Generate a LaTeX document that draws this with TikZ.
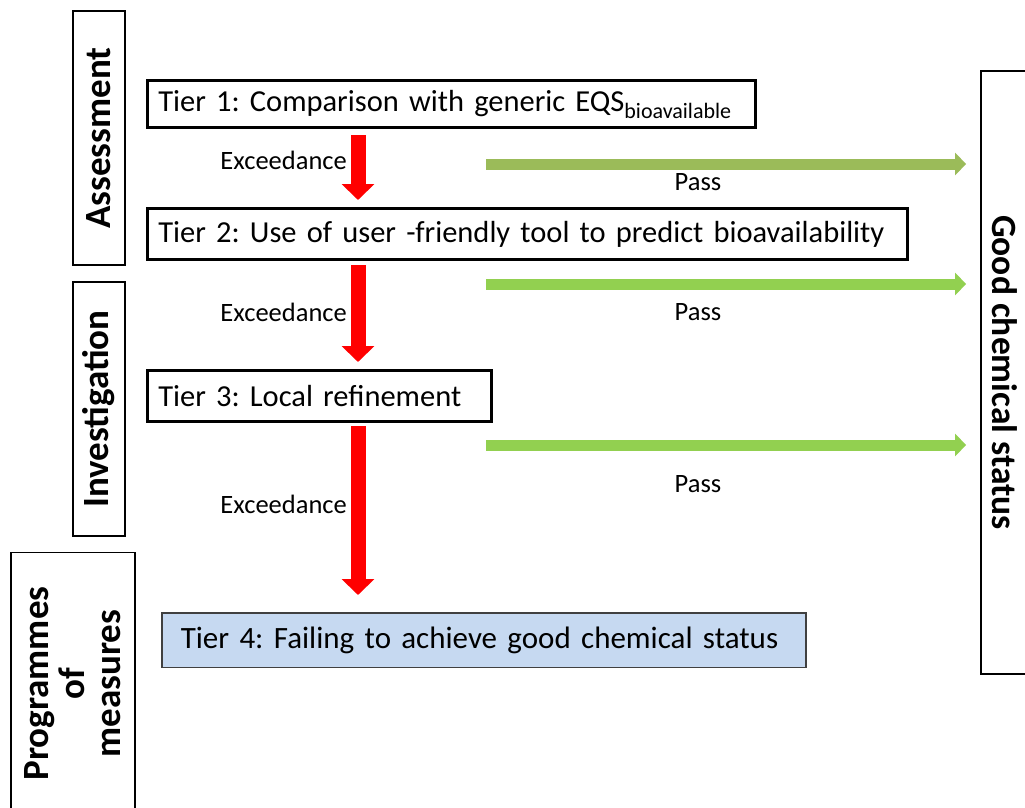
\documentclass[tikz,border=0pt]{standalone}
\usepackage{fontspec}
\setmainfont{Carlito}
\usetikzlibrary{arrows.meta,math}
\definecolor{passold}{HTML}{9BBB59}
\definecolor{passnew}{HTML}{92D050}
\definecolor{failblue}{HTML}{C6D9F1}
\frenchspacing
\tikzset{
  tier/.style={draw=black, line width=2.6pt, anchor=north west, align=left, inner xsep=11pt, inner ysep=0pt, font=\fontsize{30.5}{36}\selectfont},
  phase/.style={draw=black, line width=1.8pt, inner sep=0pt, align=center, font=\bfseries\fontsize{37}{36}\selectfont},
  exceed/.style={draw=red, line width=15pt, -{Triangle[width=32pt,length=16pt]}},
  pass/.style={line width=11pt, -{Triangle[width=22pt,length=11pt]}, shorten >=14pt},
  lbl/.style={font=\fontsize{26.5}{30}\selectfont, inner sep=0pt}
}
\begin{document}
\begin{tikzpicture}[x=1pt, y=-1pt]
      \tikzmath{\ax = 212; \px = 486;}
      \path[use as bounding box, clip] (0,0) rectangle (1025,808);
      \node[phase, rotate=90, minimum width=254pt, minimum height=52pt] (assess) at (99,138) {Assessment};
      \node[phase, rotate=90, minimum width=254pt, minimum height=52pt] (invest) at (99,409) {Investigation};
      \node[phase, rotate=90, minimum width=262pt, minimum height=124pt] (prog) at (73,683.5) {Programmes\\of\\measures};
      \node[phase, rotate=-90, minimum width=603pt, minimum height=48pt, font=\bfseries\fontsize{35.5}{36}\selectfont] (good) at (1005,372.5) {Good chemical status};
      \node[tier, text width=586pt, minimum height=47.4pt] (t1) at (146,79) {\mbox{Tier 1: Comparison with generic EQS\raisebox{-7pt}{\fontsize{22}{24}\selectfont bioavailable}}};
      \node[tier, text width=738pt, minimum height=51.4pt] (t2) at (146,207) {\mbox{Tier 2: Use of user -friendly tool to predict bioavailability}};
      \node[tier, text width=322pt, minimum height=51.4pt] (t3) at (146,369) {\mbox{Tier 3: Local refinement}};
      \node[tier, draw=black!75, line width=1.5pt, fill=failblue, inner xsep=19pt, text width=606pt, minimum height=54.5pt, font=\fontsize{31}{36}\selectfont] (t4) at (161,612) {\mbox{Tier 4: Failing to achieve good chemical status}};
      \coordinate (e1) at ([xshift=\ax pt]t1.south west);
      \coordinate (e2) at ([xshift=\ax pt]t2.south west);
      \coordinate (e3) at ([xshift=\ax pt]t3.south west);
      \draw[exceed, shorten <=6pt, shorten >=7pt] (e1) -- (e1 |- t2.north);
      \draw[exceed, shorten <=4pt, shorten >=7pt] (e2) -- (e2 |- t3.north);
      \draw[exceed, shorten <=3pt, shorten >=17pt] (e3) -- (e3 |- t4.north);
      \node[lbl, anchor=east] (x1) at (347,160) {Exceedance};
      \node[lbl, anchor=east] (x2) at (347,312) {Exceedance};
      \node[lbl, anchor=east] (x3) at (347,504) {Exceedance};
      \coordinate (g1) at (\px,164);
      \coordinate (g2) at (\px,284);
      \coordinate (g3) at (\px,445);
      \draw[pass, draw=passold] (g1) -- (g1 -| good.south);
      \draw[pass, draw=passnew] (g2) -- (g2 -| good.south);
      \draw[pass, draw=passnew] (g3) -- (g3 -| good.south);
      \node[lbl] (p1) at (698,182) {Pass};
      \node[lbl] (p2) at (698,312) {Pass};
      \node[lbl] (p3) at (698,484) {Pass};
\end{tikzpicture}
\end{document}
